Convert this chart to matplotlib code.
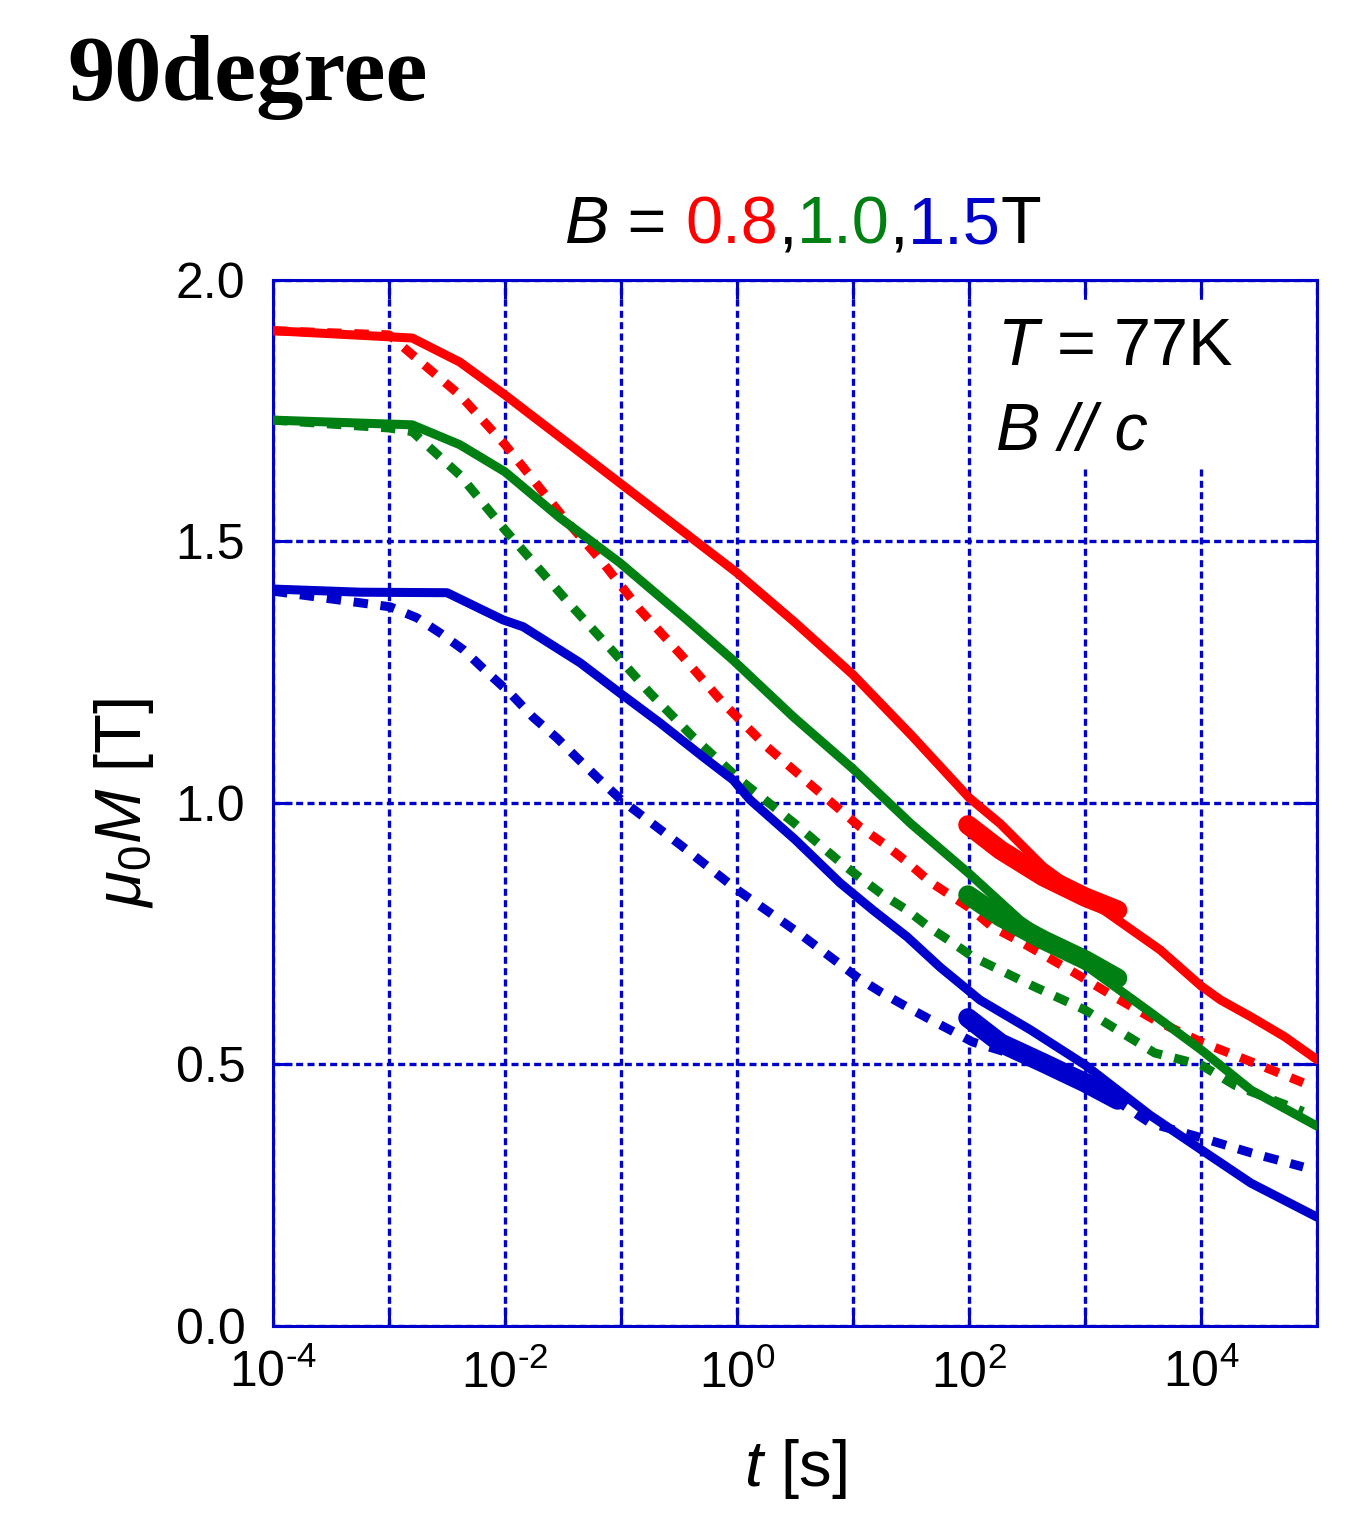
import numpy as np
import matplotlib
matplotlib.use('Agg')
import matplotlib.pyplot as plt
from matplotlib.patches import Rectangle
from matplotlib.ticker import FixedLocator, NullLocator, FuncFormatter

plt.rcParams['font.family'] = ['Liberation Sans', 'DejaVu Sans']
plt.rcParams['mathtext.fontset'] = 'custom'
plt.rcParams['mathtext.rm'] = 'Liberation Sans'
plt.rcParams['mathtext.it'] = 'Liberation Sans:italic'

RED = '#FF0000'
GREEN = '#007F12'
BLUE = '#0000CC'

# log10(t [s]) and mu0M [T]
red_solid_lt = [-4, -2.8, -2.39, -2, -1.5, -1, -0.5, 0, 0.5, 1.0, 1.5, 2.0, 2.27, 2.64, 3.0, 3.647,
                4.0, 4.17, 4.43, 4.72, 5]
red_solid_M = [1.903, 1.889, 1.843, 1.78, 1.695, 1.61, 1.525, 1.44, 1.345, 1.245, 1.13, 1.01, 0.96,
               0.878, 0.82, 0.719, 0.65, 0.623, 0.591, 0.553, 0.509]
red_dash_lt = [-4, -3, -2.8, -2.39, -2, -1.5, -1.155, -0.836, -0.466, -0.121, 0.259, 0.655, 1.06, 1.259,
               1.466, 1.664, 1.862, 2.0, 2.2, 2.44, 2.85, 3.24, 3.6, 4.0, 4.5, 4.88]
red_dash_M = [1.903, 1.895, 1.857, 1.78, 1.685, 1.547, 1.459, 1.369, 1.279, 1.191, 1.107, 1.031, 0.954, 0.923,
              0.887, 0.849, 0.820, 0.80, 0.763, 0.735, 0.683, 0.631, 0.585, 0.543, 0.499, 0.465]

green_solid_lt = [-4, -2.8, -2.39, -2, -1.526, -1.009, -0.431, -0.034, 0.483, 1.0, 1.5, 2.0, 2.44,
                  3.0, 3.56, 4.0, 4.43, 5]
green_solid_M = [1.732, 1.723, 1.685, 1.633, 1.545, 1.459, 1.350, 1.273, 1.165, 1.065, 0.96, 0.865, 0.776,
                 0.69, 0.60, 0.528, 0.451, 0.382]
green_dash_lt = [-4, -3, -2.8, -2.39, -2, -1.457, -1.095, -0.75, -0.379, 0.026, 0.5, 0.888, 1.06, 1.259,
                 1.466, 1.664, 1.862, 2.03, 2.53, 3.0, 3.6, 4.0, 4.3, 4.88]
green_dash_M = [1.732, 1.717, 1.71, 1.627, 1.522, 1.384, 1.296, 1.210, 1.126, 1.044, 0.96, 0.887, 0.857, 0.824,
                0.795, 0.761, 0.732, 0.706, 0.652, 0.604, 0.522, 0.499, 0.459, 0.41]

blue_solid_lt = [-4, -3.25, -2.5, -2.017, -1.845, -1.353, -1.009, -0.664, -0.293, -0.034, 0.112, 0.5, 0.888,
                 1.172, 1.466, 1.75, 2.095, 2.53, 3.0, 3.56, 4.0, 4.43, 5]
blue_solid_M = [1.409, 1.403, 1.402, 1.350, 1.337, 1.268, 1.210, 1.153, 1.088, 1.044, 1.006, 0.93, 0.847,
                0.795, 0.744, 0.686, 0.623, 0.566, 0.499, 0.403, 0.337, 0.273, 0.208]
blue_dash_lt = [-4, -2.99, -2.76, -2.56, -2.36, -2.155, -1.957, -1.759, -1.552, -1.379, -1.164, -1.0, -0.49,
                0, 0.54, 1.034, 1.233, 1.431, 1.638, 1.836, 2.03, 2.53, 3, 3.56, 4, 4.43, 4.88]
blue_dash_M = [1.405, 1.375, 1.354, 1.325, 1.293, 1.250, 1.210, 1.164, 1.124, 1.086, 1.040, 1.006, 0.92,
               0.834, 0.75, 0.667, 0.639, 0.614, 0.589, 0.566, 0.543, 0.509, 0.47, 0.388, 0.36, 0.331, 0.304]

# long-time relaxation measurements (thick segments)
relax_lt = [1.99, 2.27, 2.64, 3.0, 3.28]
red_relax_M = [0.958, 0.91, 0.859, 0.82, 0.795]
green_relax_M = [0.824, 0.782, 0.738, 0.70, 0.665]
blue_relax_M = [0.589, 0.541, 0.503, 0.465, 0.432]

xtick_exp = list(range(-4, 6))
ytick_vals = [0.0, 0.5, 1.0, 1.5, 2.0]

fig = plt.figure(figsize=(13.68, 15.15), dpi=100)
ax = fig.add_axes([0.1996, 0.1248, 0.7632, 0.6904])

dash = (0, (1.6, 1.4))
curves = [
    (red_solid_lt, red_solid_M, RED, '-'), (red_dash_lt, red_dash_M, RED, dash),
    (green_solid_lt, green_solid_M, GREEN, '-'), (green_dash_lt, green_dash_M, GREEN, dash),
    (blue_solid_lt, blue_solid_M, BLUE, '-'), (blue_dash_lt, blue_dash_M, BLUE, dash),
]
for lt, m, c, ls in curves:
    ax.plot(np.power(10.0, lt), m, color=c, lw=6.5, linestyle=ls,
            solid_capstyle='round', solid_joinstyle='round', dash_capstyle='butt', zorder=3)

for m, c in [(red_relax_M, RED), (green_relax_M, GREEN), (blue_relax_M, BLUE)]:
    ax.plot(np.power(10.0, relax_lt), m, color=c, lw=14, solid_capstyle='round', zorder=4)

ax.set_xscale('log')
ax.set_xlim(1e-4, 1e5)
ax.set_ylim(0, 2)
ax.xaxis.set_major_locator(FixedLocator(np.power(10.0, xtick_exp)))
ax.xaxis.set_minor_locator(NullLocator())


def xfmt(v, pos):
    e = int(round(np.log10(v)))
    if e % 2 == 0 and e <= 4:
        return '10$^{%s}$' % str(e).replace('-', '\u2010')
    return ''


ax.xaxis.set_major_formatter(FuncFormatter(xfmt))
ax.yaxis.set_major_locator(FixedLocator(ytick_vals))
ax.yaxis.set_major_formatter(FuncFormatter(lambda v, p: '%.1f' % v))

ax.set_axisbelow(True)
ax.grid(True, color=BLUE, linestyle=(0, (2.1, 1.3)), lw=2.4)
for s in ax.spines.values():
    s.set_color(BLUE)
    s.set_linewidth(2.2)
ax.tick_params(which='major', direction='in', length=14, width=2.2, color=BLUE,
               top=True, right=True, labelsize=36, labelcolor='black')
ax.tick_params(axis='x', pad=17)
ax.tick_params(axis='y', pad=20)

ax.set_xlabel('$t$ [s]', fontsize=47, labelpad=28)
ax.set_ylabel(r'$\mu_{\mathit{0}}M$ [T]', fontsize=47, labelpad=14)

# white box behind the condition text
ax.add_patch(Rectangle((0.677, 0.82), 0.316, 0.161, transform=ax.transAxes,
                       facecolor='white', edgecolor='none', zorder=1))
ax.text(0.6935, 0.9187, '$T$ = 77K', transform=ax.transAxes, fontsize=48,
        ha='left', va='baseline', zorder=5)
ax.text(0.692, 0.8375, 'B // c', transform=ax.transAxes, fontsize=48,
        style='italic', ha='left', va='baseline', zorder=5)

fig.text(0.049, 0.934, '90degree', family='Liberation Serif', weight='bold',
         fontsize=68, ha='left', va='baseline')

# multi-coloured field label
pieces = [('B', 'black', 'italic'), (' = ', 'black', 'normal'), ('0.8', RED, 'normal'),
          (',', 'black', 'normal'), ('1.0', GREEN, 'normal'), (',', 'black', 'normal'),
          ('1.5', BLUE, 'normal'), ('T', 'black', 'normal')]
renderer = fig.canvas.get_renderer()
texts = [fig.text(0, 0.8396, s, color=c, style=st, fontsize=48, ha='left', va='baseline')
         for s, c, st in pieces]
widths = [t.get_window_extent(renderer).width for t in texts]
W = fig.bbox.width
x = 0.587 * W - sum(widths) / 2
for t, w in zip(texts, widths):
    t.set_x(x / W)
    x += w

fig.savefig('out.png', dpi=100)
